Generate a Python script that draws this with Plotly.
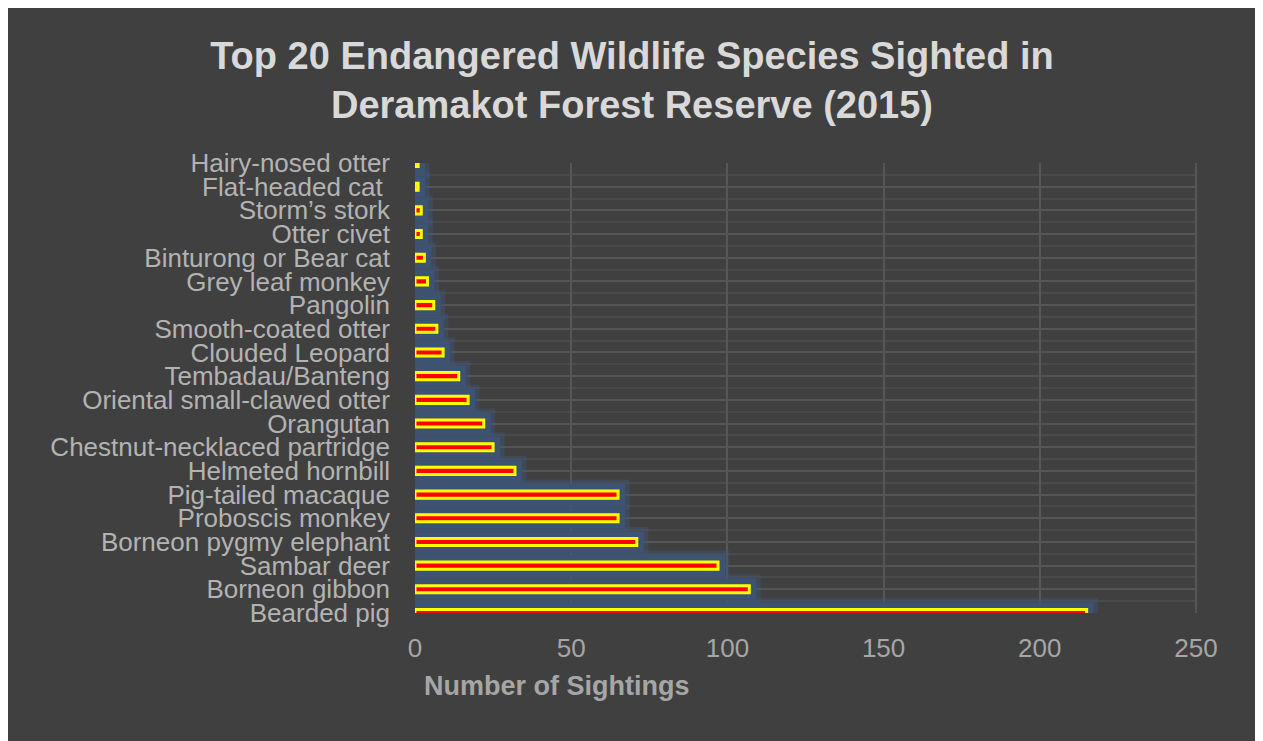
import plotly.graph_objects as go

# species listed bottom -> top as drawn on the chart
species = [
    "Bearded pig",
    "Borneon gibbon",
    "Sambar deer",
    "Borneon pygmy elephant",
    "Proboscis monkey",
    "Pig-tailed macaque",
    "Helmeted hornbill",
    "Chestnut-necklaced partridge",
    "Orangutan",
    "Oriental small-clawed otter",
    "Tembadau/Banteng",
    "Clouded Leopard",
    "Smooth-coated otter",
    "Pangolin",
    "Grey leaf monkey",
    "Binturong or Bear cat",
    "Otter civet",
    "Storm\u2019s stork",
    "Flat-headed cat ",
    "Hairy-nosed otter",
]
sightings = [215, 107, 97, 71, 65, 65, 32, 25, 22, 17, 14, 9, 7, 6, 4, 3, 2, 2, 1, 1]
x_ticks = [0, 50, 100, 150, 200, 250]

pos = list(range(len(species)))

BG = "#404040"
FONT = "Liberation Sans, Arial, sans-serif"

fig = go.Figure()

# soft blue glow behind the bars (two layers)
fig.add_trace(go.Bar(
    x=sightings, y=pos, orientation="h", width=0.3,
    marker=dict(color="rgba(62,88,124,0.4)", line=dict(color="rgba(62,88,124,0.4)", width=23)),
    hoverinfo="skip", showlegend=False,
))
fig.add_trace(go.Bar(
    x=sightings, y=pos, orientation="h", width=0.3,
    marker=dict(color="#3c5373", line=dict(color="#3c5373", width=14)),
    hoverinfo="skip", showlegend=False,
))
fig.add_trace(go.Bar(
    x=sightings, y=pos, orientation="h", width=0.3,
    marker=dict(color="#ff0000", line=dict(color="#ffff00", width=3)),
    name="Number of Sightings", showlegend=False,
))

fig.update_layout(
    width=1248, height=733,
    barmode="overlay",
    paper_bgcolor=BG,
    plot_bgcolor=BG,
    margin=dict(l=407, r=60, t=155, b=128),
    font=dict(family=FONT, color="#b3b3b3"),
    title=dict(
        text="<b>Top 20 Endangered Wildlife Species Sighted in<br>Deramakot Forest Reserve (2015)</b>",
        x=0.5, xref="container", xanchor="center",
        y=0.917, yref="container", yanchor="top",
        font=dict(family=FONT, size=38, color="#d9d9d9"),
    ),
    xaxis=dict(
        range=[0, 250], tickvals=x_ticks, showline=False, zeroline=False,
        showgrid=True, gridcolor="#575757", gridwidth=2,
        tickfont=dict(size=26, color="#a6a6a6"), ticklabelstandoff=17,
    ),
    yaxis=dict(
        range=[0, len(species) - 1], tickvals=pos, ticktext=species,
        showgrid=True, gridcolor="#555555", gridwidth=2, zeroline=False,
        minor=dict(tick0=0.5, dtick=1, showgrid=True, gridcolor="#4a4a4a", gridwidth=2),
        tickfont=dict(size=26, color="#b3b3b3"), ticklabelstandoff=24,
        fixedrange=True,
    ),
    shapes=[
        # right edge line of the plot area
        dict(type="line", xref="paper", yref="paper", x0=1, x1=1, y0=0, y1=1,
             line=dict(color="#575757", width=2)),
    ],
    annotations=[
        dict(text="<b>Number of Sightings</b>", xref="paper", yref="paper",
             x=0.009, y=-0.162, xanchor="left", yanchor="middle", showarrow=False,
             font=dict(family=FONT, size=27, color="#a6a6a6")),
    ],
)

fig.write_html("out.html")
